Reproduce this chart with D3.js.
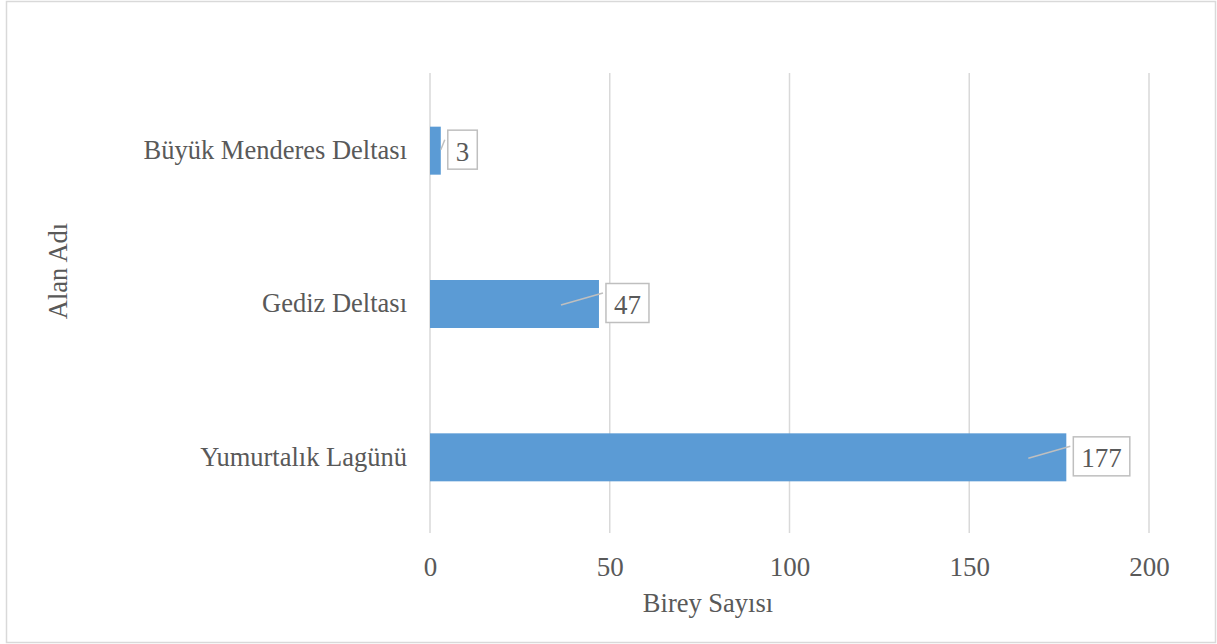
<!DOCTYPE html>
<html><head><meta charset="utf-8">
<script src="https://cdn.jsdelivr.net/npm/d3@7"></script>
<style>body{margin:0;background:#fff}svg{display:block}</style>
</head><body>
<script>
const categories = ["Büyük Menderes Deltası", "Gediz Deltası", "Yumurtalık Lagünü"];
const values = [3, 47, 177];
const xTicks = [0, 50, 100, 150, 200];
const xTitle = "Birey Sayısı";
const yTitle = "Alan Adı";

const W = 1217, H = 644;
const svg = d3.select("body").append("svg").attr("width", W).attr("height", H);
const font = "'Liberation Serif','Times New Roman',serif";
const textColor = "#595959";

svg.append("rect").attr("x", 6.5).attr("y", 1.5).attr("width", 1209).attr("height", 641)
  .attr("fill", "#fff").attr("stroke", "#d9d9d9").attr("stroke-width", 1.5);

const x = d3.scaleLinear().domain([0, 200]).range([430, 1149]);
const y = d3.scaleBand().domain(categories).range([74, 534]).paddingInner(0.687).paddingOuter(0.3435);

// gridlines
svg.append("g").selectAll("line").data(xTicks).join("line")
  .attr("x1", d => x(d)).attr("x2", d => x(d))
  .attr("y1", 73).attr("y2", 533)
  .attr("stroke", "#d9d9d9").attr("stroke-width", 1.5);

// bars
svg.append("g").selectAll("rect").data(values).join("rect")
  .attr("x", x(0)).attr("y", (d, i) => y(categories[i]))
  .attr("width", d => x(d) - x(0)).attr("height", y.bandwidth())
  .attr("fill", "#5b9bd5");

// x tick labels
const xAxis = d3.axisBottom(x).tickValues(xTicks).tickSize(0).tickPadding(0);
const gx = svg.append("g").attr("transform", "translate(0,557)").call(xAxis);
gx.select(".domain").remove();
gx.selectAll("text").attr("font-family", font).attr("font-size", 27).attr("fill", textColor)
  .attr("dy", "0.71em");

// y category labels
const yAxis = d3.axisLeft(y).tickSize(0).tickPadding(0);
const gy = svg.append("g").attr("transform", "translate(407,0)").call(yAxis);
gy.select(".domain").remove();
gy.selectAll("text").attr("font-family", font).attr("font-size", 26.5).attr("fill", textColor);

// titles
svg.append("text").attr("x", 708).attr("y", 612).attr("text-anchor", "middle")
  .attr("font-family", font).attr("font-size", 26.5).attr("fill", textColor).text(xTitle);
svg.append("text").attr("transform", "translate(67,271) rotate(-90)").attr("text-anchor", "middle")
  .attr("font-family", font).attr("font-size", 26.5).attr("fill", textColor).text(yTitle);

// data labels with leader lines
const lab = svg.append("g");
values.forEach((v, i) => {
  const cy = y(categories[i]) + y.bandwidth() / 2;
  const xe = x(v);
  const bx = xe + 7;
  const t = lab.append("text").attr("font-family", font).attr("font-size", 27).attr("fill", textColor)
    .attr("text-anchor", "start").attr("dominant-baseline", "central").text(v);
  const tw = t.node().getComputedTextLength();
  const bw = tw + 16, bh = 39;
  lab.insert("rect", "text").attr("x", bx).attr("y", cy - bh / 2 - 1).attr("width", bw).attr("height", bh)
    .attr("fill", "#fff").attr("stroke", "#bfbfbf").attr("stroke-width", 1.5);
  t.attr("x", bx + 8).attr("y", cy + 1);
  const sx = (xe - x(0)) > 40 ? xe - 38 : xe;
  const sy = (xe - x(0)) > 40 ? cy + 1 : cy - 1;
  lab.append("line").attr("x1", sx).attr("y1", sy).attr("x2", bx - 3).attr("y2", cy - 11)
    .attr("stroke", "#bfbfbf").attr("stroke-width", 1.5);
});
</script>
</body></html>
